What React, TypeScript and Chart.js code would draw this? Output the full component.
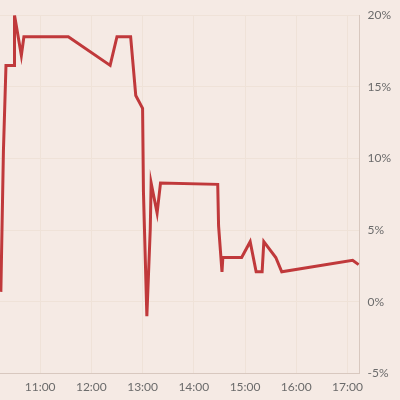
import React, { useEffect, useRef } from "react";
import { Chart, registerables } from "chart.js";

Chart.register(...registerables);

// time in minutes since midnight
const times = [614, 617, 620, 630, 630, 638, 641, 693, 742, 750, 766, 772, 780, 781, 785, 789, 790, 797, 801, 868, 869, 873, 874, 896, 906, 913, 920, 922, 936, 943, 1026, 1033];
const values = [0.7, 10.5, 16.5, 16.5, 20.0, 17.2, 18.5, 18.5, 16.5, 18.5, 18.5, 14.4, 13.5, 7.7, -1.0, 5.1, 8.3, 6.2, 8.3, 8.2, 5.3, 2.1, 3.1, 3.1, 4.2, 2.1, 2.1, 4.2, 3.1, 2.1, 2.9, 2.6];
const yTicks = [-5, 0, 5, 10, 15, 20];
const xTickHours = [11, 12, 13, 14, 15, 16, 17];

const fmtTime = (m: number) => {
  const h = Math.floor(m / 60);
  const mm = Math.round(m % 60);
  return `${h}:${mm.toString().padStart(2, "0")}`;
};

export default function App() {
  const ref = useRef<HTMLCanvasElement | null>(null);
  useEffect(() => {
    if (!ref.current) return;
    const chart = new Chart(ref.current, {
      type: "line",
      data: {
        datasets: [
          {
            data: times.map((t, i) => ({ x: t, y: values[i] })),
            borderColor: "#c0393b",
            borderWidth: 3,
            pointRadius: 0,
            tension: 0,
            fill: false,
          },
        ],
      },
      options: {
        animation: false,
        responsive: false,
        maintainAspectRatio: false,
        layout: { padding: { top: 9, right: 1, left: 0, bottom: 0 } },
        plugins: { legend: { display: false }, tooltip: { enabled: false } },
        scales: {
          x: {
            type: "linear",
            min: 613,
            max: 1034,
            afterBuildTicks: (axis: any) => {
              axis.ticks = xTickHours.map((h) => ({ value: h * 60 }));
            },
            ticks: {
              callback: (v: any) => fmtTime(Number(v)),
              color: "#6b6b6b",
              font: { family: "Lato", size: 12 },
              maxRotation: 0,
              padding: 6,
            },
            grid: { color: "#efe2d8", drawTicks: false },
            border: { color: "#d8c8bf" },
          },
          y: {
            position: "right",
            min: -5,
            max: 20,
            afterBuildTicks: (axis: any) => {
              axis.ticks = yTicks.map((v) => ({ value: v }));
            },
            ticks: {
              callback: (v: any) => `${v}%`,
              color: "#6b6b6b",
              font: { family: "Lato", size: 12 },
              padding: 8,
            },
            grid: { color: "#efe2d8", drawTicks: false },
            border: { color: "#d8c8bf" },
          },
        },
      },
    });
    return () => chart.destroy();
  }, []);
  return (
    <div style={{ position: "fixed", left: 0, top: 0, width: 400, height: 400, background: "#f5eae4" }}>
      <canvas ref={ref} width={400} height={400} style={{ width: 400, height: 400, display: "block" }} />
    </div>
  );
}
